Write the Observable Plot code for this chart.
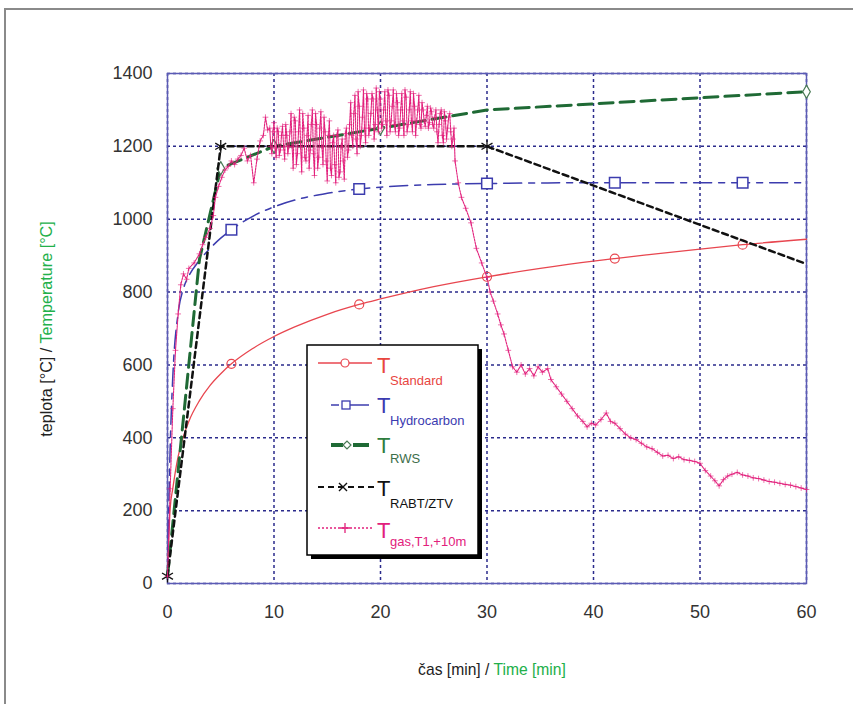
<!DOCTYPE html>
<html><head><meta charset="utf-8">
<script src="https://cdn.jsdelivr.net/npm/d3@7"></script>
<script src="https://cdn.jsdelivr.net/npm/@observablehq/plot@0.6"></script>
<style>
body{margin:0;background:#fff;overflow:hidden}
#wrap{position:relative;width:853px;height:704px;overflow:hidden;font-family:"Liberation Sans",Arial,sans-serif}
#frame{position:absolute;left:4px;top:8px;width:900px;height:800px;border:2px solid #8a8a8a;box-sizing:border-box}
#chart{position:absolute;left:0;top:0}
.lab{position:absolute;font-size:17px;color:#222;white-space:nowrap}
.g{color:#22b04a}
#ylab{left:47px;top:329px;transform:translate(-50%,-50%) rotate(-90deg) scaleX(0.95)}
#xlab{left:492px;top:670px;transform:translate(-50%,-50%) scaleX(0.92)}
#legend{position:absolute;left:0;top:0;pointer-events:none}
</style></head>
<body><div id="wrap"><div id="frame"></div><div id="chart"></div>
<div class="lab" id="ylab">teplota [°C] / <span class="g">Temperature [°C]</span></div>
<div class="lab" id="xlab">čas [min] / <span class="g">Time [min]</span></div>
<svg id="legend" width="853" height="704"></svg>
</div>
<script>
// ---- data ----
const xTicks = [0, 10, 20, 30, 40, 50, 60];
const yTicks = [0, 200, 400, 600, 800, 1000, 1200, 1400];

const stdTime = [0,0.25,0.5,1,1.5,2,3,4,5,6,8,10,12,15,18,20,25,30,35,40,42,45,50,54,60];
const stdTemp = [20,205,261,349,404,445,502,544,576,603,645,678,705,739,766,781,815,842,865,885,892,902,918,930,945];
const stdMarkTime = [6, 18, 30, 42, 54];
const stdMarkTemp = [603, 766, 842, 892, 930];

const hcTime = [0,0.25,0.5,1,1.5,2,3,4,5,6,8,10,12,15,18,20,25,30,40,50,60];
const hcTemp = [20,373,569,743,810,844,887,920,948,971,1008,1034,1053,1071,1083,1088,1095,1098,1100,1100,1100];
const hcMarkTime = [6, 18, 30, 42, 54];
const hcMarkTemp = [971, 1083, 1098, 1100, 1100];

const rwsTime = [0, 3, 5, 10, 30, 60];
const rwsTemp = [20, 890, 1140, 1200, 1300, 1350];
const rwsMarkTime = [5, 10, 20, 60];
const rwsMarkTemp = [1140, 1200, 1250, 1350];

const rabtTime = [0, 5, 30, 60];
const rabtTemp = [20, 1200, 1200, 877];
const rabtMarkTime = [0, 5, 30];
const rabtMarkTemp = [20, 1200, 1200];

// measured gas temperature [time, temp]
const gasReadings = [
 [0,20],[0.25,260],[0.5,480],[0.75,640],[1,740],[1.25,820],[1.5,850],[1.8,835],[2,865],[2.5,880],[3,905],[3.3,930],[3.6,950],
 [4,975],[4.3,1010],[4.5,1060],[4.8,1090],[5.1,1115],[5.4,1135],[5.7,1145],[6,1160],[6.3,1150],[6.6,1165],[6.9,1175],
 [7.2,1195],[7.5,1160],[7.8,1175],[8.1,1100],[8.4,1165],[8.7,1215],[9.0,1230],[9.2,1280],[9.4,1245],
 [9.6,1250],[9.8,1180],[10.0,1265],[10.2,1170],[10.4,1240],[10.6,1190],[10.8,1255],[11.0,1165],[11.2,1230],[11.4,1200],
 [11.6,1290],[11.8,1140],[12.0,1270],[12.2,1180],[12.4,1300],[12.6,1130],[12.8,1250],[13.0,1160],[13.2,1285],[13.4,1190],
 [13.6,1300],[13.8,1120],[14.0,1260],[14.2,1170],[14.4,1295],[14.6,1150],[14.8,1240],[15.0,1105],[15.2,1270],
 [15.4,1120],[15.6,1230],[15.8,1100],[16.0,1245],[16.2,1130],[16.4,1220],[16.6,1110],[16.8,1250],
 [17.0,1190],[17.2,1320],[17.4,1200],[17.6,1340],[17.8,1180],[18.0,1310],[18.2,1230],[18.4,1355],[18.6,1210],[18.8,1330],
 [19.0,1250],[19.2,1345],[19.4,1220],[19.6,1360],[19.8,1240],
 [20.0,1330],[20.2,1260],[20.4,1350],[20.6,1230],[20.8,1340],[21.0,1270],[21.2,1355],[21.4,1240],[21.6,1320],[21.8,1250],
 [22.0,1345],[22.2,1230],[22.4,1335],[22.6,1260],[22.8,1350],[23.0,1240],[23.2,1310],[23.4,1270],[23.6,1340],[23.8,1250],
 [24.0,1300],[24.2,1255],[24.4,1310],[24.6,1265],[24.8,1295],[25.0,1250],
 [25.2,1300],[25.4,1210],[25.6,1290],[25.8,1230],[26.0,1295],[26.2,1220],[26.4,1280],[26.6,1240],[26.8,1220],[27.0,1160],
 [27.3,1100],[27.6,1060],[28.0,1030],[28.5,990],[29.0,920],[29.5,880],[30.0,840],[30.3,800],[30.6,775],[31.0,740],
 [31.3,710],[31.6,685],[32.0,640],[32.4,595],[32.8,580],[33.2,600],[33.6,575],[34.0,590],[34.4,570],[34.8,595],[35.2,580],
 [35.7,590],[36.0,560],[36.5,540],[37.0,520],[37.5,500],[38.0,480],[38.5,460],[39.0,445],[39.4,430],[39.8,440],[40.2,435],
 [40.7,450],[41.2,468],[41.6,445],[42.0,440],[42.5,425],[43.0,410],[43.5,400],[44.0,395],[44.5,385],[45.0,375],[45.5,370],
 [46.0,360],[46.5,350],[47.0,352],[47.5,343],[48.0,348],[48.5,340],[49.0,338],[49.5,335],[50.0,330],[50.5,310],[51.0,295],
 [51.4,282],[51.8,268],[52.2,285],[52.6,295],[53.0,300],[53.5,305],[54.0,298],[54.5,295],[55.0,290],[55.5,288],[56.0,284],
 [56.5,280],[57.0,278],[57.5,275],[58.0,272],[58.5,270],[59.0,266],[59.5,262],[60.0,258]
];
// extra readings in the fluctuating phase (between the ones above)
const gasReadingsFluct = [
 [9.7,1200],[9.9,1240],[10.1,1195],[10.3,1250],[10.5,1175],[10.7,1230],[10.9,1200],[11.1,1260],[11.3,1180],[11.5,1240],
 [11.7,1200],[11.9,1280],[12.1,1150],[12.3,1240],[12.5,1200],[12.7,1290],[12.9,1170],[13.1,1230],[13.3,1140],[13.5,1260],
 [13.7,1180],[13.9,1290],[14.1,1140],[14.3,1250],[14.5,1200],[14.7,1280],[14.9,1160],[15.1,1230],[15.3,1140],
 [15.5,1210],[15.7,1150],[15.9,1230],[16.1,1115],[16.3,1200],[16.5,1160],[16.7,1235],[16.9,1170],
 [17.1,1260],[17.3,1230],[17.5,1290],[17.7,1220],[17.9,1350],[18.1,1200],[18.3,1280],[18.5,1250],[18.7,1345],[18.9,1230],
 [19.1,1290],[19.3,1330],[19.5,1260],[19.7,1300],[19.9,1350],
 [20.1,1250],[20.3,1300],[20.5,1270],[20.7,1355],[20.9,1240],[21.1,1310],[21.3,1260],[21.5,1345],[21.7,1230],[21.9,1300],
 [22.1,1270],[22.3,1355],[22.5,1240],[22.7,1300],[22.9,1270],[23.1,1345],[23.3,1230],[23.5,1300],[23.7,1260],[23.9,1320],
 [24.1,1270],[24.3,1285],[24.5,1250],[24.7,1305],[24.9,1260],
 [25.1,1280],[25.3,1240],[25.5,1260],[25.7,1300],[25.9,1210],[26.1,1270],[26.3,1250],[26.5,1290],[26.7,1200],[26.9,1250]
];

// ---- colours ----
const cStd = "#e8464f", cHc = "#3c3cae", cRws = "#1f6a35", cRabt = "#111111", cGas = "#e2207c";

const zip = (ts, vs) => ts.map((t, i) => ({t, v: vs[i]}));
const std = zip(stdTime, stdTemp), stdM = zip(stdMarkTime, stdMarkTemp);
const hc = zip(hcTime, hcTemp), hcM = zip(hcMarkTime, hcMarkTemp);
const rws = zip(rwsTime, rwsTemp), rwsM = zip(rwsMarkTime, rwsMarkTemp);
const rabt = zip(rabtTime, rabtTemp), rabtM = zip(rabtMarkTime, rabtMarkTemp);
const gas = gasReadings.concat(gasReadingsFluct).map(([t, v]) => ({t, v})).sort((a, b) => a.t - b.t);

const gridStyle = {stroke: "#2b2b8c", strokeOpacity: 1, strokeWidth: 1.5, strokeDasharray: "3,3"};
const fmt = d => String(d);

const chart = Plot.plot({
  width: 853, height: 704,
  marginLeft: 167, marginRight: 47, marginTop: 73, marginBottom: 121,
  x: {domain: [0, 60], label: null},
  y: {domain: [0, 1400], label: null},
  style: {fontFamily: '"Liberation Sans",Arial,sans-serif', fontSize: "18px", color: "#333", background: "transparent"},
  marks: [
    Plot.gridX(xTicks, gridStyle),
    Plot.gridY(yTicks, gridStyle),
    Plot.frame({stroke: "#5b5bb5", strokeWidth: 1.5}),
    Plot.axisX(xTicks, {tickSize: 0, tickPadding: 22, fontSize: 18, fill: "#333", label: null, tickFormat: fmt}),
    Plot.axisY(yTicks, {tickSize: 0, tickPadding: 15, fontSize: 18, fill: "#333", label: null, tickFormat: fmt}),
    Plot.line(std, {x: "t", y: "v", stroke: cStd, strokeWidth: 1.3, curve: "monotone-x"}),
    Plot.dot(stdM, {x: "t", y: "v", r: 4.5, stroke: cStd, fill: "none", strokeWidth: 1.2}),
    Plot.line(hc, {x: "t", y: "v", stroke: cHc, strokeWidth: 1.5, strokeDasharray: "18,7,6,7", curve: "monotone-x"}),
    Plot.dot(hcM, {x: "t", y: "v", symbol: "square", r: 6, stroke: cHc, fill: "white", strokeWidth: 1.5}),
    Plot.line(rws, {x: "t", y: "v", stroke: cRws, strokeWidth: 3, strokeDasharray: "14,7"}),
    Plot.dot(rwsM, {x: "t", y: "v", symbol: "diamond", r: 4, stroke: "#4a7a55", fill: "white", strokeWidth: 1.2}),
    Plot.line(rabt, {x: "t", y: "v", stroke: cRabt, strokeWidth: 2.5, strokeDasharray: "6,4"}),
    Plot.dot(rabtM, {x: "t", y: "v", symbol: "asterisk", r: 6, stroke: cRabt, strokeWidth: 1.3}),
    Plot.line(gas, {x: "t", y: "v", stroke: cGas, strokeWidth: 1.1, strokeDasharray: "2,1"}),
    Plot.dot(gas, {x: "t", y: "v", symbol: "plus", r: 2, stroke: cGas, strokeWidth: 0.9, strokeOpacity: 0.7})
  ]
});
document.getElementById("chart").appendChild(chart);

// ---- legend (inside plot area, as in the reference) ----
const L = d3.select("#legend");
L.append("rect").attr("x", 311).attr("y", 349).attr("width", 171).attr("height", 210).attr("fill", "#000");
L.append("rect").attr("x", 307).attr("y", 345).attr("width", 171).attr("height", 210).attr("fill", "#fff").attr("stroke", "#000").attr("stroke-width", 1.5);

const rows = [
  {ty: 373, sy: 385, tcol: "#e8463f", sub: "Standard"},
  {ty: 413, sy: 425, tcol: "#3b3bb0", sub: "Hydrocarbon"},
  {ty: 453, sy: 463, tcol: "#2e7d3e", scol: "#3d6e4a", sub: "RWS"},
  {ty: 496, sy: 508, tcol: "#111", sub: "RABT/ZTV"},
  {ty: 538, sy: 546, tcol: "#e2207c", sub: "gas,T1,+10m"}
];
// samples
L.append("line").attr("x1", 318).attr("x2", 372).attr("y1", 363).attr("y2", 363).attr("stroke", cStd).attr("stroke-width", 1.3);
L.append("circle").attr("cx", 345).attr("cy", 363).attr("r", 4).attr("fill", "#fff").attr("stroke", cStd).attr("stroke-width", 1.2);

L.append("line").attr("x1", 331).attr("x2", 339).attr("y1", 405).attr("y2", 405).attr("stroke", cHc).attr("stroke-width", 1.5);
L.append("line").attr("x1", 350).attr("x2", 369).attr("y1", 405).attr("y2", 405).attr("stroke", cHc).attr("stroke-width", 1.5);
L.append("rect").attr("x", 342).attr("y", 401).attr("width", 8).attr("height", 8).attr("fill", "#fff").attr("stroke", cHc).attr("stroke-width", 1.3);

L.append("line").attr("x1", 331).attr("x2", 343).attr("y1", 445).attr("y2", 445).attr("stroke", cRws).attr("stroke-width", 4);
L.append("line").attr("x1", 353).attr("x2", 369).attr("y1", 445).attr("y2", 445).attr("stroke", cRws).attr("stroke-width", 4);
L.append("path").attr("d", "M343,445 L347,441 L351,445 L347,449 Z").attr("fill", "#fff").attr("stroke", "#4a7a55").attr("stroke-width", 1.2);

L.append("line").attr("x1", 318).attr("x2", 374).attr("y1", 487).attr("y2", 487).attr("stroke", cRabt).attr("stroke-width", 2).attr("stroke-dasharray", "6,4");
L.append("path").attr("d", "M339,483 L347,491 M339,491 L347,483").attr("stroke", cRabt).attr("stroke-width", 1.4);

L.append("line").attr("x1", 318).attr("x2", 374).attr("y1", 528).attr("y2", 528).attr("stroke", cGas).attr("stroke-width", 1.3).attr("stroke-dasharray", "2,2");
L.append("path").attr("d", "M345,523 L345,533 M340,528 L350,528").attr("stroke", cGas).attr("stroke-width", 1.3);

for (const r of rows) {
  L.append("text").attr("x", 377).attr("y", r.ty).attr("font-family", '"Liberation Sans",Arial,sans-serif').attr("font-size", 22).attr("fill", r.tcol).text("T");
  L.append("text").attr("x", 390).attr("y", r.sy).attr("font-family", '"Liberation Sans",Arial,sans-serif').attr("font-size", 13).attr("fill", r.scol || r.tcol).text(r.sub);
}
</script>
</body></html>
